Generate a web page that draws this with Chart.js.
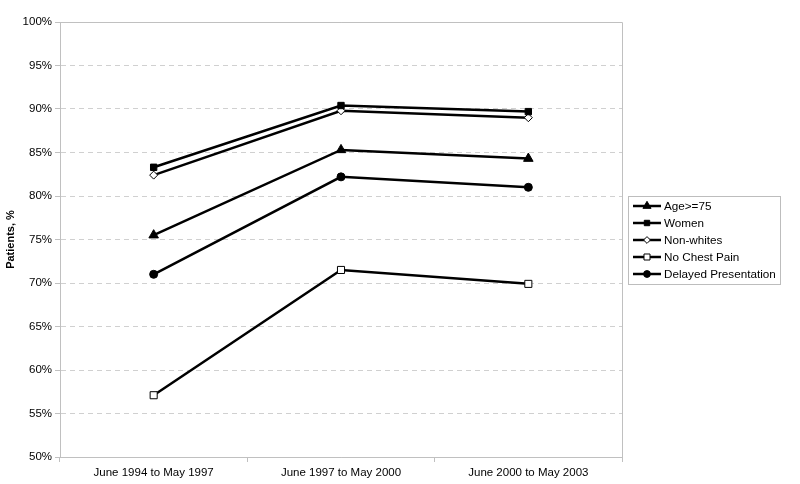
<!DOCTYPE html>
<html>
<head>
<meta charset="utf-8">
<script src="https://cdn.jsdelivr.net/npm/chart.js@4/dist/chart.umd.min.js"></script>
<style>
  html, body { margin: 0; padding: 0; background: #fff; }
  #wrap { width: 800px; height: 484px; }
</style>
</head>
<body>
<div id="wrap"><canvas id="chart"></canvas></div>
<script>
const periods = ['June 1994 to May 1997', 'June 1997 to May 2000', 'June 2000 to May 2003'];
const seriesNames = ['Age>=75', 'Women', 'Non-whites', 'No Chest Pain', 'Delayed Presentation'];
const ageOver75 = [75.5, 85.3, 84.3];
const women = [83.3, 90.4, 89.7];
const nonWhites = [82.4, 89.8, 89.0];
const noChestPain = [57.1, 71.5, 69.9];
const delayedPresentation = [71.0, 82.2, 81.0];
const yTicks = [50, 55, 60, 65, 70, 75, 80, 85, 90, 95, 100];

const FONT = 'Arial, "Liberation Sans", sans-serif';

// marker look for each series
const markers = [
  { style: 'triangle', radius: 5.5, fill: '#000' },
  { style: 'rect', radius: 4.5, fill: '#000' },
  { style: 'rectRot', radius: 4, fill: '#fff' },
  { style: 'rect', radius: 5, fill: '#fff' },
  { style: 'circle', radius: 4, fill: '#000' }
];
const values = [ageOver75, women, nonWhites, noChestPain, delayedPresentation];

const datasets = seriesNames.map((name, i) => ({
  label: name,
  data: values[i],
  borderColor: '#000',
  borderWidth: 2.5,
  pointStyle: markers[i].style,
  pointRadius: markers[i].radius,
  pointBackgroundColor: markers[i].fill,
  pointBorderColor: '#000',
  pointBorderWidth: 1,
  tension: 0
}));

// plot border + legend drawn by hand
const boxPlugin = {
  id: 'boxPlugin',
  afterDraw(chart) {
    const ctx = chart.ctx;
    const a = chart.chartArea;
    ctx.save();
    ctx.strokeStyle = '#c0c0c0';
    ctx.lineWidth = 1;
    ctx.beginPath();
    ctx.moveTo(a.left, a.top + 0.5);
    ctx.lineTo(a.right + 0.5, a.top + 0.5);
    ctx.lineTo(a.right + 0.5, a.bottom);
    ctx.stroke();

    // legend box
    const lx = 628, ly = 196, lw = 152, lh = 88;
    ctx.strokeStyle = '#bdbdbd';
    ctx.strokeRect(lx + 0.5, ly + 0.5, lw, lh);
    ctx.font = '11.7px ' + FONT;
    ctx.textBaseline = 'middle';
    ctx.fillStyle = '#000';
    seriesNames.forEach((name, i) => {
      const y = 206 + i * 17;
      ctx.strokeStyle = '#000';
      ctx.lineWidth = 2.5;
      ctx.beginPath();
      ctx.moveTo(633, y);
      ctx.lineTo(661, y);
      ctx.stroke();
      const m = markers[i];
      ctx.lineWidth = 1;
      ctx.fillStyle = m.fill;
      Chart.helpers.drawPoint(ctx, { pointStyle: m.style, radius: m.radius * 0.85, borderWidth: 1 }, 647, y);
      ctx.fillStyle = '#000';
      ctx.fillText(name, 664, y + 0.5);
    });
    ctx.restore();
  }
};

new Chart(document.getElementById('chart'), {
  type: 'line',
  data: { labels: periods, datasets: datasets },
  options: {
    responsive: true,
    maintainAspectRatio: false,
    animation: false,
    layout: { padding: { left: 0, right: 178, top: 22, bottom: 0 } },
    plugins: {
      legend: { display: false },
      tooltip: { enabled: false }
    },
    scales: {
      x: {
        offset: true,
        grid: {
          offset: true,
          drawOnChartArea: false,
          color: '#c0c0c0',
          tickLength: 5
        },
        border: { color: '#c0c0c0' },
        ticks: { color: '#000', font: { size: 11.5, family: FONT }, padding: 4 },
        afterFit(scale) { scale.height = 27; }
      },
      y: {
        min: yTicks[0],
        max: yTicks[yTicks.length - 1],
        afterBuildTicks(scale) { scale.ticks = yTicks.map(v => ({ value: v })); },
        grid: {
          color: '#d0d0d0',
          tickLength: 5,
          tickColor: '#c0c0c0',
          drawTicks: true
        },
        border: { color: '#c0c0c0', dash: [5, 4] },
        ticks: {
          color: '#000',
          font: { size: 11.5, family: FONT },
          padding: 3,
          callback: v => v + '%'
        },
        title: {
          display: true,
          text: 'Patients, %',
          color: '#000',
          font: { size: 11, weight: 'bold', family: FONT },
          padding: { top: 4, bottom: 0 }
        },
        afterFit(scale) { scale.width = 60; }
      }
    }
  },
  plugins: [boxPlugin]
});
</script>
</body>
</html>
